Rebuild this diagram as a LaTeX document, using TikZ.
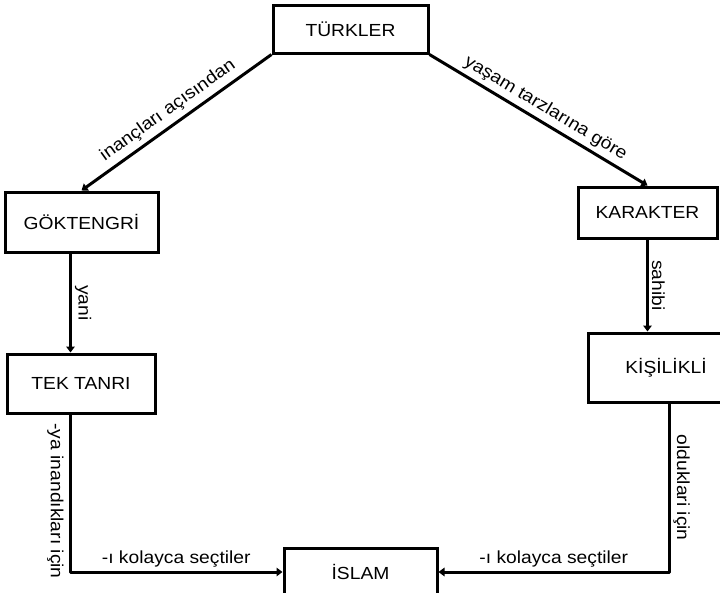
\documentclass[tikz,border=0pt]{standalone}
\usepackage{fontspec}
\setmainfont[FakeStretch=1.1]{Liberation Sans}
\usetikzlibrary{arrows.meta}
\tikzset{
  kutu/.style={draw,line width=3pt,inner sep=0pt,font=\fontsize{17.5}{20}\selectfont},
  ok/.style={line width=3pt,line join=round,-{Triangle[length=6pt,width=8.5pt]}},
  etiket/.style={font=\fontsize{17.5}{20}\selectfont,inner sep=3pt}
}
\begin{document}
\begin{tikzpicture}[x=1pt,y=-1pt]
\useasboundingbox (0,0) rectangle (720,592);
\node[kutu,minimum width=155,minimum height=48] (turkler) at (350.5,29) {TÜRKLER};
\node[kutu,minimum width=153,minimum height=60] (gokt) at (81.5,222) {GÖKTENGRİ};
\node[kutu,minimum width=148,minimum height=59] (tek) at (81,383.5) {TEK TANRI};
\node[kutu,minimum width=139,minimum height=51] (karakter) at (647.5,212.5) {KARAKTER};
\node[kutu,minimum width=156,minimum height=69] (kisilikli) at (666,367.5) {KİŞİLİKLİ};
\node[kutu,minimum width=153,minimum height=48] (islam) at (360.5,572) {İSLAM};
\draw[ok,{Triangle[length=6pt,width=8.5pt]}-] (gokt.north) -- node[etiket,above,sloped,inner sep=5pt]{inançları açısından} (turkler.south west);
\draw[ok] (turkler.south east) -- node[etiket,above,sloped,inner sep=4pt]{yaşam tarzlarına göre} (karakter.north);
\draw[ok] ([xshift=-11pt]gokt.south) -- node[etiket,rotate=-90,anchor=south]{yani} ([xshift=-11pt]gokt.south |- tek.north);
\draw[ok] (karakter.south) -- node[etiket,rotate=-90,anchor=south]{sahibi} (karakter.south |- kisilikli.north);
\draw[ok] ([xshift=-11pt]tek.south) |- node[etiket,pos=0.275,rotate=-90,anchor=north,inner sep=5pt]{-ya inandıkları için} node[etiket,pos=0.75,above]{-ı kolayca seçtiler} (islam.west);
\draw[ok] ([xshift=3pt]kisilikli.south) |- node[etiket,pos=0.25,rotate=-90,anchor=south]{olduklari için} node[etiket,pos=0.75,above]{-ı kolayca seçtiler} (islam.east);
\end{tikzpicture}
\end{document}
